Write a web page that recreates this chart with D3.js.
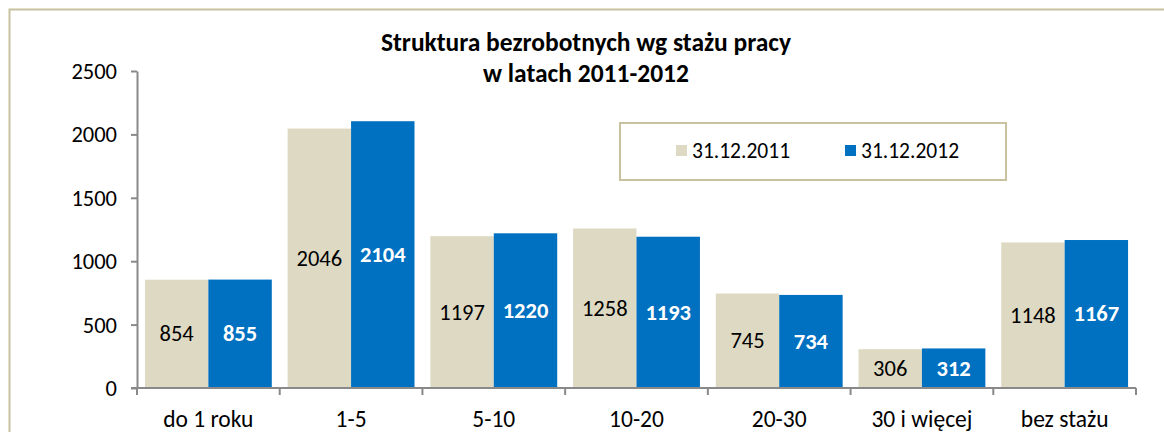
<!DOCTYPE html>
<html lang="pl">
<head>
  <meta charset="UTF-8">
  <title>Struktura bezrobotnych wg stażu pracy</title>
  <script src="https://d3js.org/d3.v7.min.js"></script>
  <style>
    body { margin: 0; background: #fff; }
    text { font-family: Carlito, 'Open Sans', sans-serif; fill: #000; }
  </style>
</head>
<body>
<script>
  // Data
  const categories = ['do 1 roku', '1-5', '5-10', '10-20', '20-30', '30 i więcej', 'bez stażu'];
  const seriesNames = ['31.12.2011', '31.12.2012'];
  const values2011 = [854, 2046, 1197, 1258, 745, 306, 1148];
  const values2012 = [855, 2104, 1220, 1193, 734, 312, 1167];
  const yTicks = [0, 500, 1000, 1500, 2000, 2500];
  const titleLines = ['Struktura bezrobotnych wg stażu pracy', 'w latach 2011-2012'];

  const colors = {'31.12.2011': '#DDD9C3', '31.12.2012': '#0070C0'};
  const width = 1164, height = 432;
  const plot = {left: 137, right: 1136, top: 71, bottom: 388};
  const font = "Carlito, 'Open Sans', sans-serif";

  const rows = categories.map((c, i) => ({
    cat: c,
    vals: [
      {key: seriesNames[0], v: values2011[i]},
      {key: seriesNames[1], v: values2012[i]}
    ]
  }));

  const svg = d3.select('body').append('svg')
    .attr('width', width)
    .attr('height', height);

  // outer frame
  svg.append('rect')
    .attr('x', 9.5).attr('y', 9.5)
    .attr('width', 1300).attr('height', 600)
    .attr('fill', 'none')
    .attr('stroke', '#C9C2A1')
    .attr('stroke-width', 2);

  const x0 = d3.scaleBand()
    .domain(categories)
    .range([plot.left, plot.right]);

  const x1 = d3.scaleBand()
    .domain(seriesNames)
    .range([0, x0.bandwidth()])
    .paddingOuter(0.125);

  const y = d3.scaleLinear()
    .domain([0, 2500])
    .range([plot.bottom, plot.top]);

  // bars
  const groups = svg.append('g').selectAll('g')
    .data(rows)
    .join('g')
    .attr('transform', d => `translate(${x0(d.cat)},0)`);

  groups.selectAll('rect')
    .data(d => d.vals)
    .join('rect')
    .attr('x', d => x1(d.key))
    .attr('y', d => y(d.v))
    .attr('width', x1.bandwidth())
    .attr('height', d => y(0) - y(d.v))
    .attr('fill', d => colors[d.key]);

  // data labels
  groups.selectAll('text.val')
    .data(d => d.vals)
    .join('text')
    .attr('class', 'val')
    .attr('x', d => x1(d.key) + x1.bandwidth() / 2)
    .attr('y', d => (y(d.v) + y(0)) / 2)
    .attr('dy', '0.33em')
    .attr('text-anchor', 'middle')
    .style('font-size', '22.5px')
    .style('font-weight', d => d.key === seriesNames[1] ? 'bold' : 'normal')
    .style('fill', d => d.key === seriesNames[1] ? '#fff' : '#000')
    .text(d => d.v);

  // y axis
  const yAxis = svg.append('g')
    .attr('transform', `translate(${plot.left},0)`)
    .call(d3.axisLeft(y).tickValues(yTicks).tickFormat(d3.format('d'))
      .tickSize(6).tickPadding(14).tickSizeOuter(0));
  yAxis.select('.domain').attr('stroke', '#898989').attr('stroke-width', 2);
  yAxis.selectAll('.tick line').attr('stroke', '#898989').attr('stroke-width', 2);
  yAxis.selectAll('.tick text')
    .attr('dy', '0.33em')
    .style('font-size', '22.5px')
    .style('font-family', font)
    .attr('fill', '#000');

  // x axis
  const xAxis = svg.append('g')
    .attr('transform', `translate(0,${plot.bottom})`)
    .call(d3.axisBottom(x0).tickSize(0).tickPadding(0).tickSizeOuter(0));
  xAxis.select('.domain').remove();
  svg.append('line')
    .attr('x1', plot.left - 6).attr('x2', plot.right)
    .attr('y1', plot.bottom).attr('y2', plot.bottom)
    .attr('stroke', '#898989').attr('stroke-width', 2);
  // category separators
  svg.append('g').selectAll('line')
    .data(categories.map(c => x0(c)).concat([plot.right]))
    .join('line')
    .attr('x1', d => d).attr('x2', d => d)
    .attr('y1', plot.bottom).attr('y2', plot.bottom + 7)
    .attr('stroke', '#898989').attr('stroke-width', 2);
  xAxis.selectAll('.tick text')
    .attr('y', 0)
    .attr('dy', 0)
    .attr('transform', 'translate(0,39)')
    .style('font-size', '23.5px')
    .style('font-family', font)
    .attr('fill', '#000');

  // title, one text per line
  svg.append('g').selectAll('text')
    .data(titleLines)
    .join('text')
    .attr('x', 586)
    .attr('y', (d, i) => 50.5 + i * 31)
    .attr('text-anchor', 'middle')
    .style('font-size', '25.5px')
    .style('font-weight', 'bold')
    .text(d => d);

  // legend
  const legend = svg.append('g');
  legend.append('rect')
    .attr('x', 620).attr('y', 123)
    .attr('width', 386).attr('height', 57)
    .attr('fill', '#fff')
    .attr('stroke', '#C9C2A1')
    .attr('stroke-width', 2);
  const legX = [676, 845];
  seriesNames.forEach((s, i) => {
    legend.append('rect')
      .attr('x', legX[i]).attr('y', 145)
      .attr('width', 11).attr('height', 11)
      .attr('fill', colors[s]);
    legend.append('text')
      .attr('x', legX[i] + 16).attr('y', 150.5)
      .attr('dy', '0.33em')
      .style('font-size', '21.5px')
      .text(s);
  });
</script>
</body>
</html>
